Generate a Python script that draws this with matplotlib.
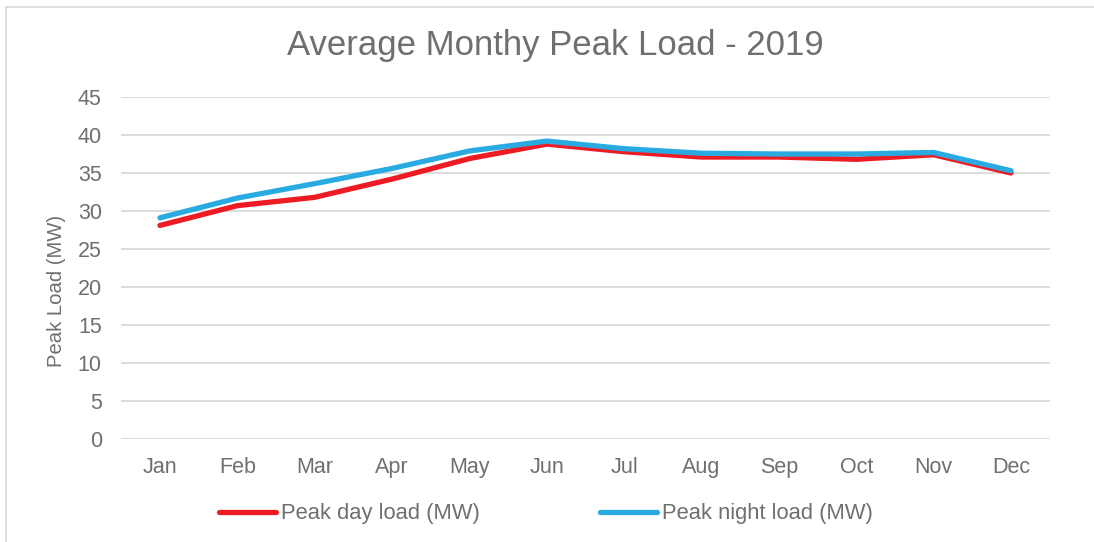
import matplotlib
matplotlib.use("Agg")
import matplotlib.pyplot as plt
from matplotlib.lines import Line2D

months = ["Jan", "Feb", "Mar", "Apr", "May", "Jun", "Jul", "Aug", "Sep", "Oct", "Nov", "Dec"]
day_load = [28.1, 30.7, 31.8, 34.2, 36.9, 38.8, 37.8, 37.1, 37.1, 36.8, 37.4, 35.0]
night_load = [29.1, 31.7, 33.6, 35.6, 37.9, 39.2, 38.2, 37.6, 37.5, 37.5, 37.7, 35.3]
yticks = [0, 5, 10, 15, 20, 25, 30, 35, 40, 45]

W, H = 1094, 542
fig = plt.figure(figsize=(W / 100, H / 100), dpi=100)
plt.rcParams['font.family'] = ['Liberation Sans', 'DejaVu Sans']
gray = "#6f6f6f"

# outer chart border (left and top visible)
fig.add_artist(Line2D([6 / W, 6 / W], [0, 1 - 7 / H], color="#d9d9d9", lw=1.2, transform=fig.transFigure))
fig.add_artist(Line2D([6 / W, 1.0], [1 - 7 / H, 1 - 7 / H], color="#d9d9d9", lw=1.2, transform=fig.transFigure))

ax = fig.add_axes([121.3 / W, 1 - 439 / H, (1049.7 - 121.3) / W, (439 - 97) / H])
x = list(range(len(months)))
ax.plot(x, day_load, color="#ED1C24", lw=3.8, solid_capstyle="round", solid_joinstyle="round", label="Peak day load (MW)", zorder=3)
ax.plot(x, night_load, color="#29ABE2", lw=3.8, solid_capstyle="round", solid_joinstyle="round", label="Peak night load (MW)", zorder=4)

ax.set_xlim(-0.5, len(months) - 0.5)
ax.set_ylim(0, 45)
ax.set_yticks(yticks)
ax.set_xticks(x)
ax.set_xticklabels(months)
ax.grid(axis="y", color="#d9d9d9", lw=1.3)
ax.set_axisbelow(True)
for s in ax.spines.values():
    s.set_visible(False)
ax.tick_params(axis="both", length=0, labelsize=15.5, labelcolor=gray)
ax.tick_params(axis="y", pad=14)
ax.tick_params(axis="x", pad=13)

fig.text(56 / W, 1 - 291 / H, "Peak Load (MW)", rotation=90, fontsize=14.6, color=gray, ha="center", va="center")
fig.text(555 / W, 1 - 46 / H, "Average Monthy Peak Load - 2019", fontsize=25, color=gray, ha="center", va="center")

leg = fig.legend(loc="center", bbox_to_anchor=(546 / W, 1 - 514 / H), ncol=2, frameon=False,
                 fontsize=15.8, labelcolor=gray, handlelength=2.6, handletextpad=0.23, columnspacing=5.5)

fig.savefig("out.png", dpi=100)
